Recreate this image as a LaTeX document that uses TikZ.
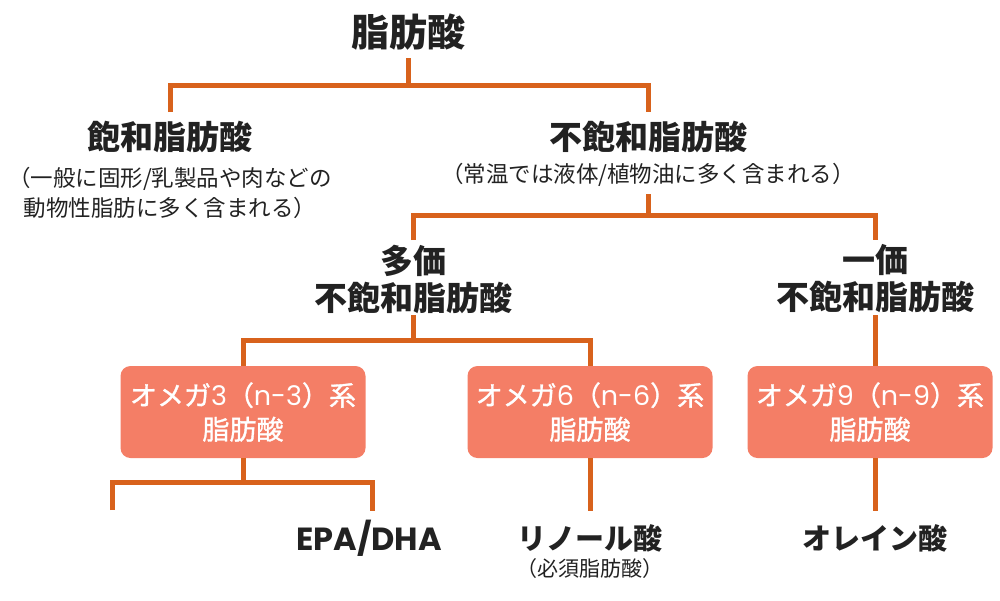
\documentclass[tikz,border=0pt]{standalone}
\usepackage{fontspec}
\setmainfont{Noto Sans CJK JP}
\newfontfamily\medfont[AutoFakeBold=1.2]{Noto Sans CJK JP}
\newfontfamily\pop{Poppins}
\definecolor{lineor}{HTML}{D8621C}
\definecolor{boxsal}{HTML}{F47E66}
\definecolor{txt}{HTML}{222222}
\begin{document}
\begin{tikzpicture}[x=1pt,y=-1pt,
  conn/.style={draw=lineor,line width=5pt},
  head/.style={text=txt,font=\bfseries\fontsize{33}{37}\selectfont,align=center,inner sep=0pt},
  sub/.style={text=txt,font=\fontsize{22.5}{30}\selectfont,align=center,inner sep=0pt},
  leaf/.style={text=txt,font=\bfseries\fontsize{29}{32}\selectfont,align=center,inner sep=0pt},
  omega/.style={fill=boxsal,rounded corners=10pt,minimum width=245pt,minimum height=92pt,text=white,font=\medfont\bfseries\fontsize{27}{34}\selectfont,align=center,inner sep=0pt}]
\useasboundingbox (0,0) rectangle (1000,600);
\node[head,font=\bfseries\fontsize{38}{40}\selectfont] (fa) at (408,32) {脂肪酸};
\node[head] (sat) at (170,137) {飽和脂肪酸};
\node[sub] (satsub) at (170,193) {（一般に固形/乳製品や肉などの\\動物性脂肪に多く含まれる）};
\node[head] (uns) at (648,137) {不飽和脂肪酸};
\node[sub] (unssub) at (648,175) {（常温では液体/植物油に多く含まれる）};
\node[head] (poly) at (413,279) {多価\\不飽和脂肪酸};
\node[head] (mono) at (875,279) {一価\\不飽和脂肪酸};
\node[omega] (o3) at (243,412) {オメガ{\pop\mdseries 3}（{\pop\mdseries n-3}）系\\脂肪酸};
\node[omega] (o6) at (590,412) {オメガ{\pop\mdseries 6}（{\pop\mdseries n-6}）系\\脂肪酸};
\node[omega] (o9) at (870,412) {オメガ{\pop\mdseries 9}（{\pop\mdseries n-9}）系\\脂肪酸};
\node[leaf,font=\pop\bfseries\fontsize{32}{34}\selectfont] (epa) at (369,538) {EPA/DHA};
\node[leaf] (lin) at (590,538) {リノール酸};
\node[sub,font=\fontsize{21}{24}\selectfont] (linsub) at (590,569) {（必須脂肪酸）};
\node[leaf] (ole) at (875,538) {オレイン酸};
% junction coordinates
\coordinate (j1) at (408,85);
\coordinate (j2) at (648,215);
\coordinate (j3) at (413,340);
\coordinate (j4) at (243,482);
\coordinate (o3l) at (112,510);
\coordinate (epatop) at (372,511);
% connectors
\draw[conn] (fa.south |- 0,58) -- (j1);
\draw[conn] (sat.north |- 0,112) |- (j1) -| (uns.north |- 0,112);
\draw[conn] (uns.south |- 0,194) -- (j2);
\draw[conn] (poly.north |- 0,240) |- (j2) -| (mono.north |- 0,240);
\draw[conn] (poly.south |- 0,315) -- (j3);
\draw[conn] (o3.north) |- (j3) -| (o6.north);
\draw[conn] (mono.south |- 0,315) -- (o9.north -| mono);
\draw[conn] (o3.south) -- (j4);
\draw[conn] (o3l) |- (j4) -| (epatop);
\draw[conn] (o6.south) -- (lin.north |- 0,511);
\draw[conn] (o9.south -| ole) -- (ole.north |- 0,511);
\end{tikzpicture}
\end{document}
